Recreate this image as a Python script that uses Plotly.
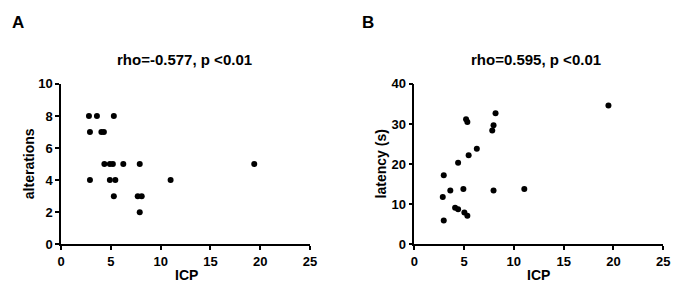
import plotly.graph_objects as go

# Panel A: ICP vs alterations
icp_a = [2.8, 3.6, 5.3, 2.9, 4.05, 4.3, 4.35, 4.9, 5.2, 6.25, 7.9, 19.4,
         2.9, 4.9, 5.45, 11.0, 5.3, 7.7, 8.1, 7.9]
alterations = [8, 8, 8, 7, 7, 7, 5, 5, 5, 5, 5, 5,
               4, 4, 4, 4, 3, 3, 3, 2]

# Panel B: ICP vs latency
icp_b = [2.96, 2.86, 2.96, 3.62, 4.1, 4.4, 4.4, 4.93, 5.03, 5.33,
         5.2, 5.33, 5.46, 6.28, 7.83, 7.96, 8.16, 7.96, 11.05, 19.5]
latency = [17.2, 11.8, 5.9, 13.4, 9.1, 8.7, 20.3, 13.8, 7.9, 7.1,
           31.2, 30.5, 22.2, 23.8, 28.4, 29.7, 32.7, 13.4, 13.8, 34.6]

x_ticks = [0, 5, 10, 15, 20, 25]
y_ticks_a = [0, 2, 4, 6, 8, 10]
y_ticks_b = [0, 10, 20, 30, 40]

W, H = 683, 294
FONT = "Liberation Sans"

fig = go.Figure()
fig.add_trace(go.Scatter(x=icp_a, y=alterations, mode="markers",
                         marker=dict(color="black", size=6),
                         xaxis="x", yaxis="y", showlegend=False, cliponaxis=False))
fig.add_trace(go.Scatter(x=icp_b, y=latency, mode="markers",
                         marker=dict(color="black", size=6),
                         xaxis="x2", yaxis="y2", showlegend=False, cliponaxis=False))

def xd(a, b):
    return [a / W, b / W]

def yd(top, bottom):
    return [1 - bottom / H, 1 - top / H]

def bold(vals):
    return ["<b>%d</b>" % v for v in vals]

def axis(domain, rng, ticks, anchor):
    return dict(domain=domain, range=rng, tickmode="array", tickvals=ticks,
                ticktext=bold(ticks), anchor=anchor,
                showline=True, linecolor="black", linewidth=1.5,
                ticks="outside", ticklen=4, tickwidth=1.5, tickcolor="black",
                showgrid=False, zeroline=False,
                tickfont=dict(family=FONT, size=13, color="black"))

fig.update_layout(
    width=W, height=H, autosize=False,
    margin=dict(l=0, r=0, t=0, b=0),
    paper_bgcolor="white", plot_bgcolor="white",
    font=dict(family=FONT, color="black"),
    xaxis=axis(xd(58, 311), [0, 25], x_ticks, "y"),
    yaxis=axis(yd(81, 250), [0, 10], y_ticks_a, "x"),
    xaxis2=axis(xd(417, 670), [0, 25], x_ticks, "y2"),
    yaxis2=axis(yd(81, 250), [0, 40], y_ticks_b, "x2"),
)

def ann(text, x, y, size, angle=0):
    fig.add_annotation(text="<b>%s</b>" % text, x=x / W, y=1 - y / H,
                       xref="paper", yref="paper",
                       showarrow=False, xanchor="center", yanchor="middle",
                       textangle=angle,
                       font=dict(family=FONT, size=size, color="black"))

ann("A", 14, 16, 17)
ann("B", 370, 16, 17)
ann("rho=-0.577, p <0.01", 183, 55, 15)
ann("rho=0.595, p <0.01", 541, 55, 15)
ann("ICP", 185, 282, 14)
ann("ICP", 543, 282, 14)
ann("alterations", 25, 165, 14, -90)
ann("latency (s)", 383, 165, 14, -90)

fig.write_html("out.html", config={"responsive": False, "displayModeBar": False},
               post_script="document.body.style.margin='0';document.body.style.overflow='hidden';")
